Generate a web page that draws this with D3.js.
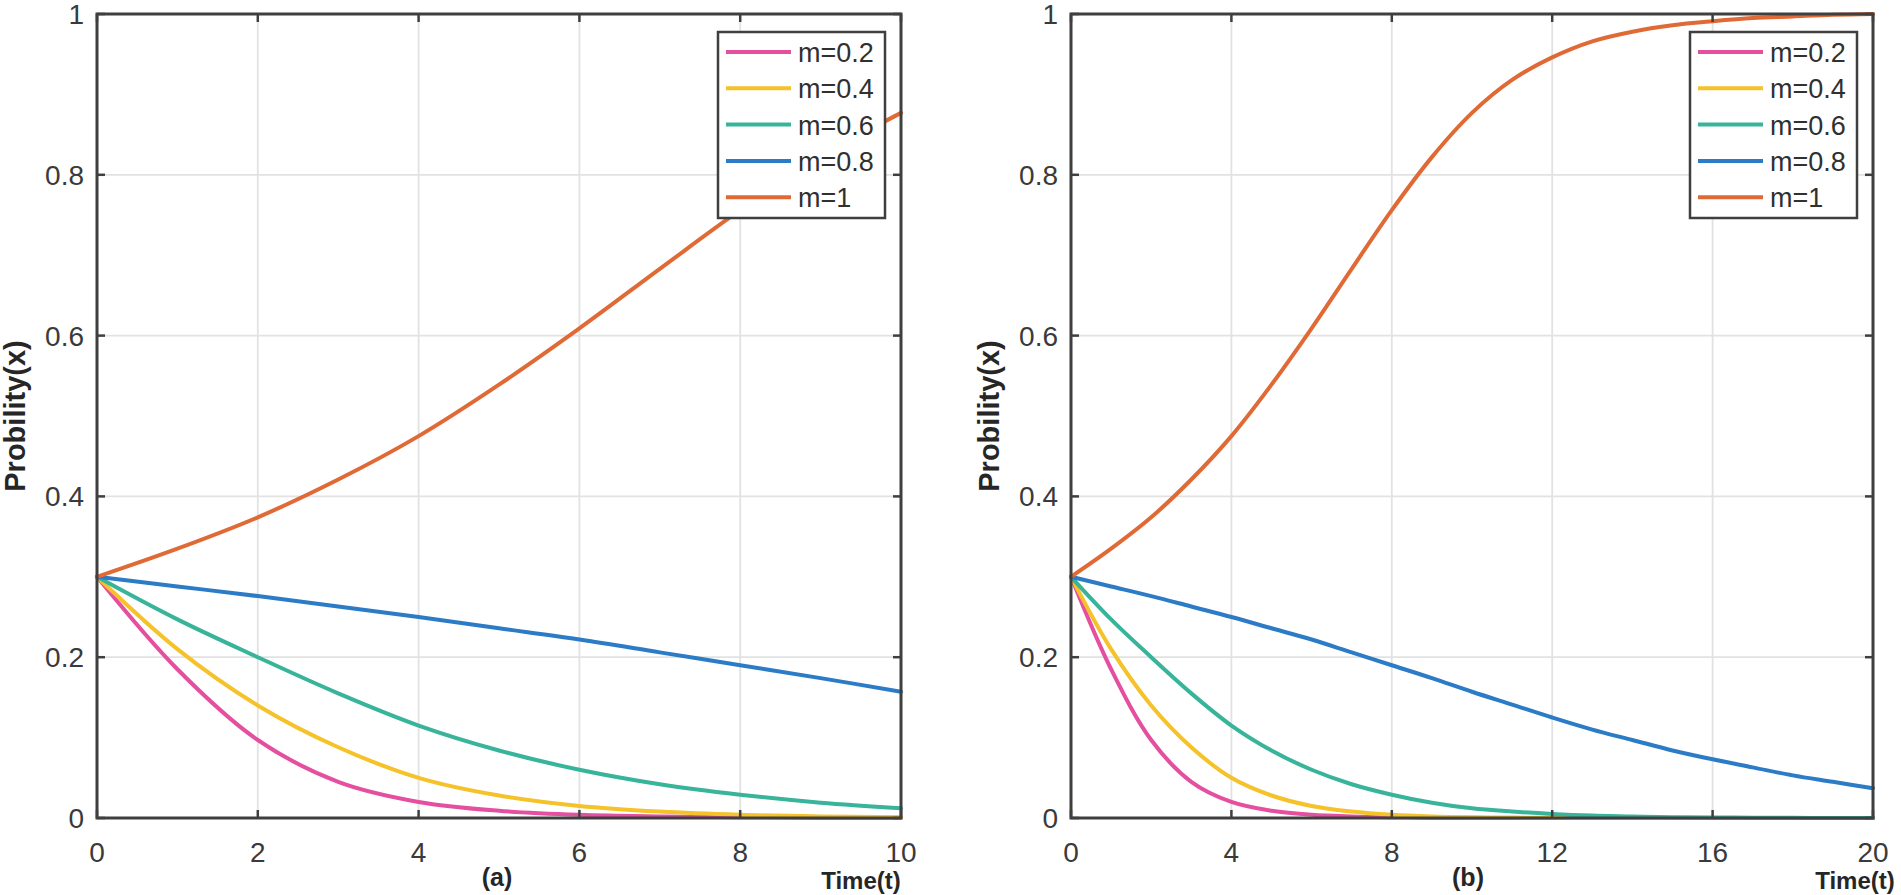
<!DOCTYPE html>
<html>
<head>
<meta charset="utf-8">
<script src="https://cdn.jsdelivr.net/npm/d3@7"></script>
<style>
  html, body { margin: 0; padding: 0; background: #ffffff; }
  svg { display: block; }
  text { font-family: "Liberation Sans", Arial, sans-serif; }
</style>
</head>
<body>
<svg id="chart" width="1901" height="895"></svg>
<script>
// ---------- data ----------
const timeA = [0, 1, 2, 3, 4, 5, 6, 7, 8, 9, 10];
const timeB = [0, 1, 2, 3, 4, 5, 6, 7, 8, 9, 10, 11, 12, 13, 14, 15, 16, 17, 18, 19, 20];
const seriesNames = ["m=0.2", "m=0.4", "m=0.6", "m=0.8", "m=1"];
const m02 = [0.300, 0.185, 0.097, 0.045, 0.020, 0.009, 0.004, 0.002, 0.001, 0.0004, 0.0002, 0.0001, 0, 0, 0, 0, 0, 0, 0, 0, 0];
const m04 = [0.300, 0.210, 0.140, 0.088, 0.050, 0.028, 0.015, 0.008, 0.004, 0.002, 0.001, 0.0005, 0.0002, 0.0001, 0, 0, 0, 0, 0, 0, 0];
const m06 = [0.300, 0.247, 0.200, 0.155, 0.115, 0.084, 0.060, 0.042, 0.029, 0.019, 0.012, 0.008, 0.005, 0.003, 0.002, 0.001, 0.0007, 0.0004, 0.0002, 0.0001, 0];
const m08 = [0.300, 0.288, 0.276, 0.263, 0.250, 0.236, 0.222, 0.206, 0.190, 0.174, 0.157, 0.141, 0.125, 0.110, 0.097, 0.084, 0.073, 0.063, 0.053, 0.045, 0.037];
const m10 = [0.300, 0.335, 0.374, 0.421, 0.475, 0.539, 0.609, 0.683, 0.756, 0.822, 0.877, 0.918, 0.946, 0.966, 0.978, 0.986, 0.991, 0.995, 0.997, 0.999, 1.000];
const seriesColors = ["#e54f9f", "#f5c22a", "#38b49b", "#2c7bc6", "#e06a36"];
const yTicks = [0, 0.2, 0.4, 0.6, 0.8, 1];
const xTicksA = [0, 2, 4, 6, 8, 10];
const xTicksB = [0, 4, 8, 12, 16, 20];
const yLabel = "Probility(x)";
const xLabel = "Time(t)";
const panelTags = ["(a)", "(b)"];

const allSeries = [m02, m04, m06, m08, m10];

// ---------- layout ----------
const svg = d3.select("#chart");
const plotTop = 14, plotBottom = 818;
const panels = [
  { left: 97, right: 901, times: timeA, domain: [0, 10], ticks: xTicksA, tag: panelTags[0], tagX: 497, timeLabelX: 861 },
  { left: 1071, right: 1873, times: timeB, domain: [0, 20], ticks: xTicksB, tag: panelTags[1], tagX: 1468, timeLabelX: 1855 }
];
const axisColor = "#3f3f3f";
const textColor = "#3a3a3a";

panels.forEach(p => {
  const x = d3.scaleLinear().domain(p.domain).range([p.left, p.right]);
  const y = d3.scaleLinear().domain([0, 1]).range([plotBottom, plotTop]);
  const g = svg.append("g");

  // grid
  g.append("g").selectAll("line").data(p.ticks.slice(1, -1)).join("line")
    .attr("x1", d => x(d)).attr("x2", d => x(d))
    .attr("y1", plotTop).attr("y2", plotBottom)
    .attr("stroke", "#e2e2e2").attr("stroke-width", 1.8);
  g.append("g").selectAll("line").data(yTicks.slice(1, -1)).join("line")
    .attr("x1", p.left).attr("x2", p.right)
    .attr("y1", d => y(d)).attr("y2", d => y(d))
    .attr("stroke", "#e2e2e2").attr("stroke-width", 1.8);

  // series lines
  const line = d3.line()
    .x(d => x(d[0]))
    .y(d => Math.min(y(d[1]), plotBottom))
    .curve(d3.curveCatmullRom.alpha(0.5));
  allSeries.forEach((s, i) => {
    const pts = p.times.map((t, k) => [t, s[k]]);
    g.append("path").datum(pts)
      .attr("d", line)
      .attr("fill", "none")
      .attr("stroke", seriesColors[i])
      .attr("stroke-width", 4)
      .attr("stroke-linejoin", "round")
      .attr("stroke-linecap", "round");
  });

  // axes box
  g.append("rect")
    .attr("x", p.left).attr("y", plotTop)
    .attr("width", p.right - p.left).attr("height", plotBottom - plotTop)
    .attr("fill", "none").attr("stroke", axisColor).attr("stroke-width", 3);

  // ticks (inward, on all sides)
  const tl = 8;
  g.append("g").selectAll("line").data(p.ticks).join("line")
    .attr("x1", d => x(d)).attr("x2", d => x(d))
    .attr("y1", plotBottom).attr("y2", plotBottom - tl)
    .attr("stroke", axisColor).attr("stroke-width", 2.5);
  g.append("g").selectAll("line").data(p.ticks).join("line")
    .attr("x1", d => x(d)).attr("x2", d => x(d))
    .attr("y1", plotTop).attr("y2", plotTop + tl)
    .attr("stroke", axisColor).attr("stroke-width", 2.5);
  g.append("g").selectAll("line").data(yTicks).join("line")
    .attr("x1", p.left).attr("x2", p.left + tl)
    .attr("y1", d => y(d)).attr("y2", d => y(d))
    .attr("stroke", axisColor).attr("stroke-width", 2.5);
  g.append("g").selectAll("line").data(yTicks).join("line")
    .attr("x1", p.right).attr("x2", p.right - tl)
    .attr("y1", d => y(d)).attr("y2", d => y(d))
    .attr("stroke", axisColor).attr("stroke-width", 2.5);

  // tick labels
  g.append("g").selectAll("text").data(p.ticks).join("text")
    .attr("x", d => x(d)).attr("y", 862)
    .attr("text-anchor", "middle")
    .attr("font-size", 28).attr("fill", textColor)
    .text(d => String(d));
  g.append("g").selectAll("text").data(yTicks).join("text")
    .attr("x", p.left - 13).attr("y", d => y(d) + 10)
    .attr("text-anchor", "end")
    .attr("font-size", 28).attr("fill", textColor)
    .text(d => String(d));

  // y label
  const ylx = p.left - 72;
  g.append("text")
    .attr("transform", `translate(${ylx},${(plotTop + plotBottom) / 2}) rotate(-90)`)
    .attr("text-anchor", "middle")
    .attr("font-size", 29).attr("font-weight", "bold").attr("fill", "#262626")
    .text(yLabel);

  // panel tag and x label
  g.append("text")
    .attr("x", p.tagX).attr("y", 886)
    .attr("text-anchor", "middle")
    .attr("font-size", 25).attr("font-weight", "bold").attr("fill", "#262626")
    .text(p.tag);
  g.append("text")
    .attr("x", p.timeLabelX).attr("y", 889)
    .attr("text-anchor", "middle")
    .attr("font-size", 24).attr("font-weight", "bold").attr("fill", "#262626")
    .text(xLabel);

  // legend
  const lgRight = p.right - 16;
  const lgW = 167, lgTop = 32, lgH = 186;
  const lg = g.append("g");
  lg.append("rect")
    .attr("x", lgRight - lgW).attr("y", lgTop)
    .attr("width", lgW).attr("height", lgH)
    .attr("fill", "#ffffff").attr("stroke", axisColor).attr("stroke-width", 2.5);
  const rows = lg.selectAll("g").data(seriesNames).join("g")
    .attr("transform", (d, i) => `translate(${lgRight - lgW + 8},${52 + i * 36.3})`);
  rows.append("line")
    .attr("x1", 0).attr("x2", 65).attr("y1", 0).attr("y2", 0)
    .attr("stroke", (d, i) => seriesColors[i]).attr("stroke-width", 4);
  rows.append("text")
    .attr("x", 72).attr("y", 10)
    .attr("font-size", 27).attr("fill", "#303030")
    .text(d => d);
});
</script>
</body>
</html>
